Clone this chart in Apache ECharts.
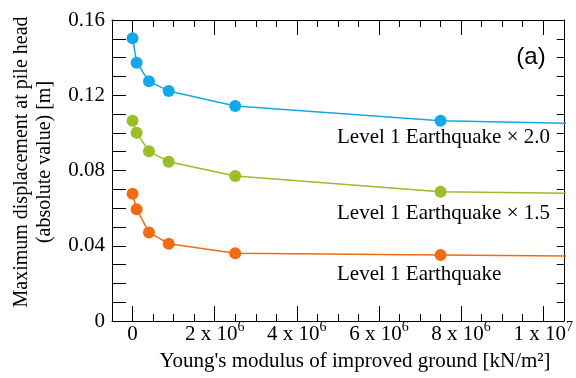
<!DOCTYPE html>
<html><head><meta charset="utf-8">
<script src="https://cdn.jsdelivr.net/npm/echarts@6/dist/echarts.min.js"></script>
<style>html,body{margin:0;padding:0;background:#fff}#c{width:576px;height:378px}</style>
</head><body><div id="c"></div>
<script>
// Data
const modulus = [0, 1e5, 4e5, 8.8e5, 2.5e6, 7.5e6, 2e7];
const level1x20 = [0.1503, 0.1373, 0.1274, 0.1223, 0.1143, 0.1065, 0.1007];
const level1x15 = [0.1065, 0.1001, 0.0902, 0.0847, 0.0771, 0.0687, 0.0654];
const level1 = [0.0677, 0.0594, 0.0471, 0.0411, 0.0360, 0.0351, 0.0330];
const seriesNames = ['Level 1 Earthquake \u00d7 2.0', 'Level 1 Earthquake \u00d7 1.5', 'Level 1 Earthquake'];
const seriesColors = ['#13a8e8', '#9abd2a', '#f26b12'];
const xMajorTicks = [0, 2e6, 4e6, 6e6, 8e6, 1e7];
const xMinorStep = 5e5;
const yMajorStep = 0.04;
const yMinorStep = 0.01;
const xTitle = "Young's modulus of improved ground [kN/m\u00b2]";
const yTitle = 'Maximum displacement at pile head\n(absolute value) [m]';
const panelLabel = '(a)';

const FONT = 'Liberation Serif';
const chart = echarts.init(document.getElementById('c'), null, {renderer: 'canvas'});
const black = {color: '#000', width: 1};

function xFmt(v) {
  if (v === 0) return '{a|0}';
  const e = Math.floor(Math.log10(v) + 1e-9);
  const m = Math.round(v / Math.pow(10, e));
  return '{a|' + m + ' x 10}{s|' + e + '}';
}
const baseX = {type: 'value', min: -5e5, max: 1.05e7, splitLine: {show: false},
  axisLine: {onZero: false, lineStyle: black}};

const allData = [level1x20, level1x15, level1];

chart.setOption({
  animation: false,
  grid: {left: 112, right: 7, top: 20, bottom: 57, containLabel: false},
  xAxis: [
    Object.assign({}, baseX, {position: 'bottom', interval: xMinorStep,
      axisTick: {inside: true, length: 7, lineStyle: black}, axisLabel: {show: false}}),
    Object.assign({}, baseX, {position: 'bottom', axisLine: {show: false, onZero: false},
      axisTick: {inside: true, length: 15, customValues: xMajorTicks, lineStyle: black},
      axisLabel: {customValues: xMajorTicks, formatter: xFmt, margin: -1, color: '#000',
        rich: {a: {fontFamily: FONT, fontSize: 21, lineHeight: 28, color: '#000'},
               s: {fontFamily: FONT, fontSize: 14, lineHeight: 14, verticalAlign: 'top', color: '#000'}}}}),
    Object.assign({}, baseX, {position: 'top', interval: xMinorStep,
      axisTick: {inside: true, length: 7, lineStyle: black}, axisLabel: {show: false}}),
    Object.assign({}, baseX, {position: 'top', axisLine: {show: false, onZero: false},
      axisTick: {inside: true, length: 15, customValues: xMajorTicks, lineStyle: black},
      axisLabel: {show: false}})
  ],
  yAxis: [
    {type: 'value', min: 0, max: 0.16, interval: yMajorStep, position: 'left',
      axisLine: {onZero: false, lineStyle: black}, splitLine: {show: false},
      axisTick: {inside: true, length: 14, lineStyle: black},
      minorTick: {show: true, splitNumber: 4, length: 14, lineStyle: black},
      axisLabel: {margin: 7, fontFamily: FONT, fontSize: 21, color: '#000',
        formatter: v => v === 0 ? '0' : v.toFixed(2)}},
    {type: 'value', min: 0, max: 0.16, interval: yMinorStep, position: 'right',
      axisLine: {onZero: false, lineStyle: black}, splitLine: {show: false},
      axisTick: {inside: true, length: 7, lineStyle: black}, axisLabel: {show: false}}
  ],
  series: allData.map((vals, i) => ({
    name: seriesNames[i], type: 'line', xAxisIndex: 0, yAxisIndex: 0, clip: true,
    data: modulus.map((x, j) => [x, vals[j]]),
    symbol: 'circle', symbolSize: 12, color: seriesColors[i],
    lineStyle: {width: 1.5, color: seriesColors[i]}, itemStyle: {color: seriesColors[i]}
  })),
  graphic: [
    {type: 'text', x: 33, y: 162, rotation: Math.PI / 2,
      style: {text: yTitle, fontFamily: FONT, fontSize: 20, lineHeight: 23, align: 'center', verticalAlign: 'middle', fill: '#000'}},
    {type: 'text', x: 355, y: 361,
      style: {text: xTitle, fontFamily: FONT, fontSize: 21, align: 'center', verticalAlign: 'middle', fill: '#000'}},
    {type: 'text', x: 531, y: 57,
      style: {text: panelLabel, fontFamily: 'Liberation Sans', fontSize: 24, align: 'center', verticalAlign: 'middle', fill: '#000'}},
    {type: 'text', x: 337, y: 137,
      style: {text: seriesNames[0], fontFamily: FONT, fontSize: 21, align: 'left', verticalAlign: 'middle', fill: '#000'}},
    {type: 'text', x: 337, y: 213,
      style: {text: seriesNames[1], fontFamily: FONT, fontSize: 21, align: 'left', verticalAlign: 'middle', fill: '#000'}},
    {type: 'text', x: 337, y: 274,
      style: {text: seriesNames[2], fontFamily: FONT, fontSize: 21, align: 'left', verticalAlign: 'middle', fill: '#000'}}
  ]
});
</script></body></html>
